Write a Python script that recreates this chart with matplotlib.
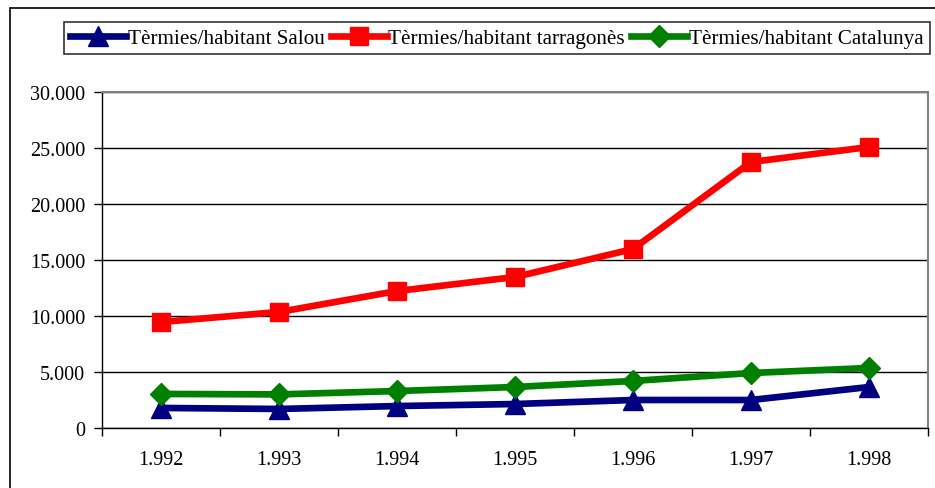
import matplotlib
matplotlib.use("Agg")
import matplotlib.pyplot as plt
from matplotlib.patches import Rectangle

plt.rcParams['font.family'] = ['Liberation Serif', 'DejaVu Serif']

years = ['1.992', '1.993', '1.994', '1.995', '1.996', '1.997', '1.998']
salou = [1790, 1700, 1960, 2140, 2500, 2500, 3660]
tarragones = [9460, 10360, 12230, 13480, 15980, 23750, 25090]
catalunya = [3040, 3000, 3300, 3660, 4200, 4910, 5360]
labels = ['Tèrmies/habitant Salou', 'Tèrmies/habitant tarragonès',
          'Tèrmies/habitant Catalunya']
yticks = [0, 5000, 10000, 15000, 20000, 25000, 30000]
ytick_labels = ['0', '5.000', '10.000', '15.000', '20.000', '25.000', '30.000']

fig = plt.figure(figsize=(9.35, 4.89), dpi=100)
ax = fig.add_axes([102/935, 1 - 429/489, 826/935, 336/489])

x = list(range(len(years)))
ax.plot(x, salou, color='#000080', lw=4.8, marker='^', ms=14, label=labels[0])
ax.plot(x, tarragones, color='#ff0000', lw=4.8, marker='s', ms=13, label=labels[1])
ax.plot(x, catalunya, color='#008000', lw=4.8, marker='D', ms=11, label=labels[2])

ax.set_xlim(-0.5, 6.5)
ax.set_ylim(0, 30000)
ax.set_yticks(yticks)
ax.set_yticklabels(ytick_labels)
ax.set_xticks(x)
ax.set_xticklabels(years)
ax.set_xticks([i - 0.5 for i in range(8)], minor=True)
ax.tick_params(axis='x', which='major', length=0, pad=16, labelsize=14.5)
ax.tick_params(axis='x', which='minor', length=6, width=1, direction='out')
ax.tick_params(axis='y', length=6, width=1, direction='out', pad=6, labelsize=14.5)
ax.yaxis.grid(True, color='black', lw=1)
ax.set_axisbelow(True)
for s in ['top', 'right']:
    ax.spines[s].set_color('#808080')
    ax.spines[s].set_linewidth(1.5)
for s in ['left', 'bottom']:
    ax.spines[s].set_color('black')
    ax.spines[s].set_linewidth(1)

# outer chart border
fig.patches.append(Rectangle((10/935, -0.1), 1.2, 1 - 9/489 + 0.1,
                             transform=fig.transFigure, fill=False,
                             edgecolor='black', lw=1.2))

leg = fig.legend(loc='upper left', bbox_to_anchor=(64/935, 1 - 23/489),
                 ncol=3, frameon=True, fancybox=False, fontsize=15.2,
                 handlelength=2.65, handletextpad=0.08, columnspacing=0.28,
                 borderpad=0.3, borderaxespad=0, markerscale=1.0)
leg.get_frame().set_edgecolor('black')
leg.get_frame().set_linewidth(1.2)

fig.savefig('out.png', dpi=100)
